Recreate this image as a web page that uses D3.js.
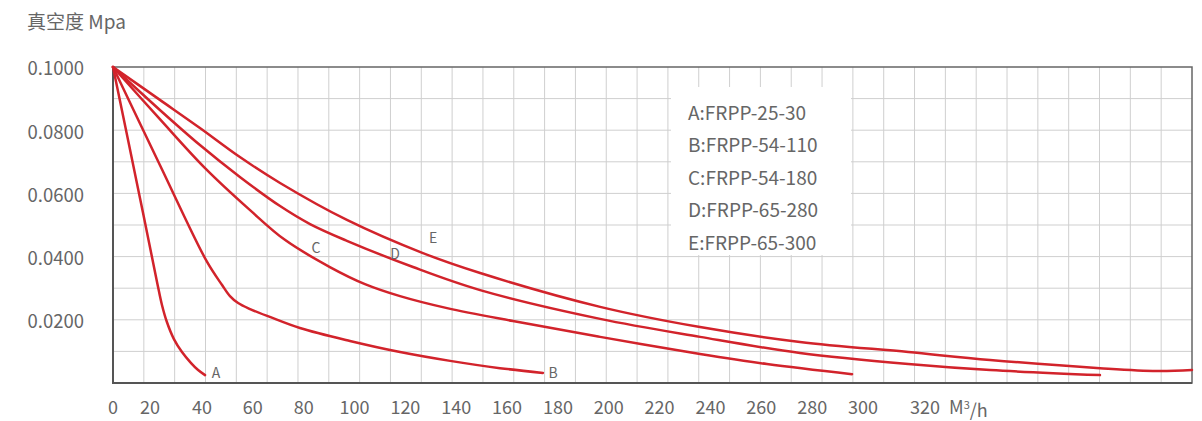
<!DOCTYPE html>
<html>
<head>
<meta charset="utf-8">
<title>真空度曲线</title>
<script src="https://d3js.org/d3.v7.min.js"></script>
<style>
    body { margin: 0; background: #fff; }
    text { font-family: "Noto Sans CJK SC", "Noto Sans", sans-serif; fill: #666; }
</style>
</head>
<body>
<div id="chart"></div>
<script>
// tick labels
var xTicks = [0, 20, 40, 60, 80, 100, 120, 140, 160, 180, 200, 220, 240, 260, 280, 300, 320];
var yTicks = [0.02, 0.04, 0.06, 0.08, 0.1];

// curve names and legend
var names = ["A", "B", "C", "D", "E"];
var legendLabels = ["A:FRPP-25-30", "B:FRPP-54-110", "C:FRPP-54-180", "D:FRPP-65-280", "E:FRPP-65-300"];

// flow (M3/h) and vacuum (Mpa)
var flowA = [0, 14.6, 22.7, 24.6, 26.5, 29.2, 32.3, 35.8, 38.5, 41.2];
var vacA  = [0.1, 0.0585, 0.0320, 0.0247, 0.0193, 0.0139, 0.0098, 0.0063, 0.0041, 0.0025];

var flowB = [0, 23.8, 42.0, 47.9, 51.0, 54.2, 58.9, 66.7, 78.5, 98.2, 117.9, 137.6, 157.2, 174.1];
var vacB  = [0.1, 0.0690, 0.0383, 0.0310, 0.0275, 0.0253, 0.0234, 0.0209, 0.0174, 0.0133, 0.0098, 0.0070, 0.0047, 0.0032];

var flowC = [0, 23.8, 41.2, 58.9, 72.6, 90.3, 104.1, 117.9, 136.4, 162.3, 196.6, 235.9, 262.2, 295.7];
var vacC  = [0.1, 0.0835, 0.0680, 0.0547, 0.0453, 0.0367, 0.0313, 0.0275, 0.0237, 0.0196, 0.0146, 0.0092, 0.0060, 0.0028];

var flowD = [0, 23.8, 39.2, 54.9, 70.7, 82.5, 97.0, 123.0, 149.4, 196.6, 235.9, 275.2, 314.6, 345.6, 388.8];
var vacD  = [0.1, 0.0864, 0.0753, 0.0652, 0.0560, 0.0503, 0.0450, 0.0367, 0.0294, 0.0203, 0.0146, 0.0095, 0.0060, 0.0041, 0.0025];

var flowE = [0, 23.8, 39.2, 54.9, 70.7, 97.0, 126.9, 149.4, 196.6, 235.9, 275.2, 314.6, 345.6, 388.8, 411.2, 425];
var vacE  = [0.1, 0.0896, 0.0807, 0.0715, 0.0633, 0.0516, 0.0411, 0.0348, 0.0241, 0.0177, 0.0130, 0.0098, 0.0073, 0.0047, 0.0038, 0.0041];

var flows = [flowA, flowB, flowC, flowD, flowE];
var vacs = [vacA, vacB, vacC, vacD, vacE];

// where the curve letters sit
var letterFlow = [45.5, 178.1, 84.8, 115.9, 130.9];
var letterVac = [0.0032, 0.0032, 0.0427, 0.0408, 0.0459];

var width = 1202, height = 421;
var plotLeft = 113, plotRight = 1192, plotTop = 67, plotBottom = 383;

var svg = d3.select("#chart").append("svg")
    .attr("width", width)
    .attr("height", height);

// the printed axis is not evenly spaced at the start, so use a polylinear scale
var x = d3.scaleLinear()
    .domain([0, 20, 40, 300, 320, 425])
    .range([plotLeft, 150, 202, 863, 925, plotRight]);
var y = d3.scaleLinear().domain([0, 0.1]).range([plotBottom, plotTop]);

// square grid: 35 columns, 10 rows
var cols = 35, rows = 10;
var grid = svg.append("g").attr("stroke", "#cfcfcf").attr("stroke-width", 1);
grid.selectAll(".gx").data(d3.range(1, cols))
    .enter().append("line")
    .attr("x1", function(i) { return plotLeft + i * (plotRight - plotLeft) / cols; })
    .attr("x2", function(i) { return plotLeft + i * (plotRight - plotLeft) / cols; })
    .attr("y1", plotTop).attr("y2", plotBottom);
grid.selectAll(".gy").data(d3.range(1, rows))
    .enter().append("line")
    .attr("x1", plotLeft).attr("x2", plotRight)
    .attr("y1", function(i) { return y(i * 0.01); })
    .attr("y2", function(i) { return y(i * 0.01); });

// frame
svg.append("rect")
    .attr("x", plotLeft).attr("y", plotTop)
    .attr("width", plotRight - plotLeft).attr("height", plotBottom - plotTop)
    .attr("fill", "none").attr("stroke", "#666").attr("stroke-width", 1.5);
svg.append("line").attr("x1", plotLeft).attr("x2", plotLeft).attr("y1", plotTop).attr("y2", plotBottom + 1)
    .attr("stroke", "#555").attr("stroke-width", 2);
svg.append("line").attr("x1", plotLeft).attr("x2", plotRight).attr("y1", plotBottom).attr("y2", plotBottom)
    .attr("stroke", "#555").attr("stroke-width", 2);

// legend box covers grid
var legendX = 688, legendY = 113, legendStep = 32.5;
svg.append("rect")
    .attr("x", 671).attr("y", 87)
    .attr("width", 180).attr("height", 168)
    .attr("fill", "#fff");
svg.selectAll(".legend").data(legendLabels)
    .enter().append("text")
    .attr("class", "legend")
    .attr("x", legendX)
    .attr("y", function(d, i) { return legendY + i * legendStep; })
    .attr("dy", "0.35em")
    .style("font-size", "19px")
    .text(function(d) { return d; });

// curves
var line = d3.line()
    .x(function(d) { return x(d[0]); })
    .y(function(d) { return y(d[1]); })
    .curve(d3.curveCatmullRom.alpha(0.5));

svg.selectAll(".curve").data(names)
    .enter().append("path")
    .attr("class", "curve")
    .attr("fill", "none")
    .attr("stroke", "#d2232b")
    .attr("stroke-width", 2.5)
    .attr("stroke-linecap", "round")
    .attr("d", function(d, i) {
        return line(flows[i].map(function(f, j) { return [f, vacs[i][j]]; }));
    });

// curve letters
svg.selectAll(".letter").data(names)
    .enter().append("text")
    .attr("x", function(d, i) { return x(letterFlow[i]); })
    .attr("y", function(d, i) { return y(letterVac[i]); })
    .attr("dy", "0.35em")
    .attr("text-anchor", "middle")
    .style("font-size", "14px")
    .text(function(d) { return d; });

// y tick labels
svg.selectAll(".ylab").data(yTicks)
    .enter().append("text")
    .attr("x", 84)
    .attr("y", function(d) { return y(d) + 2; })
    .attr("dy", "0.35em")
    .attr("text-anchor", "end")
    .style("font-size", "18.5px")
    .text(function(d) { return d3.format(".4f")(d); });

// x tick labels
svg.selectAll(".xlab").data(xTicks)
    .enter().append("text")
    .attr("x", function(d) { return x(d); })
    .attr("y", 408)
    .attr("dy", "0.35em")
    .attr("text-anchor", "middle")
    .style("font-size", "18px")
    .text(function(d) { return d; });

// unit labels
var unit = svg.append("text")
    .attr("x", 949).attr("y", 408)
    .attr("dy", "0.35em")
    .style("font-size", "18px");
unit.append("tspan").text("M");
unit.append("tspan").attr("dy", "-0.45em").style("font-size", "11px").text("3");
unit.append("tspan").attr("dy", "0.45em").text("/h");

svg.append("text")
    .attr("x", 27).attr("y", 22)
    .attr("dy", "0.35em")
    .style("font-size", "19px")
    .text("真空度 Mpa");
</script>
</body>
</html>
